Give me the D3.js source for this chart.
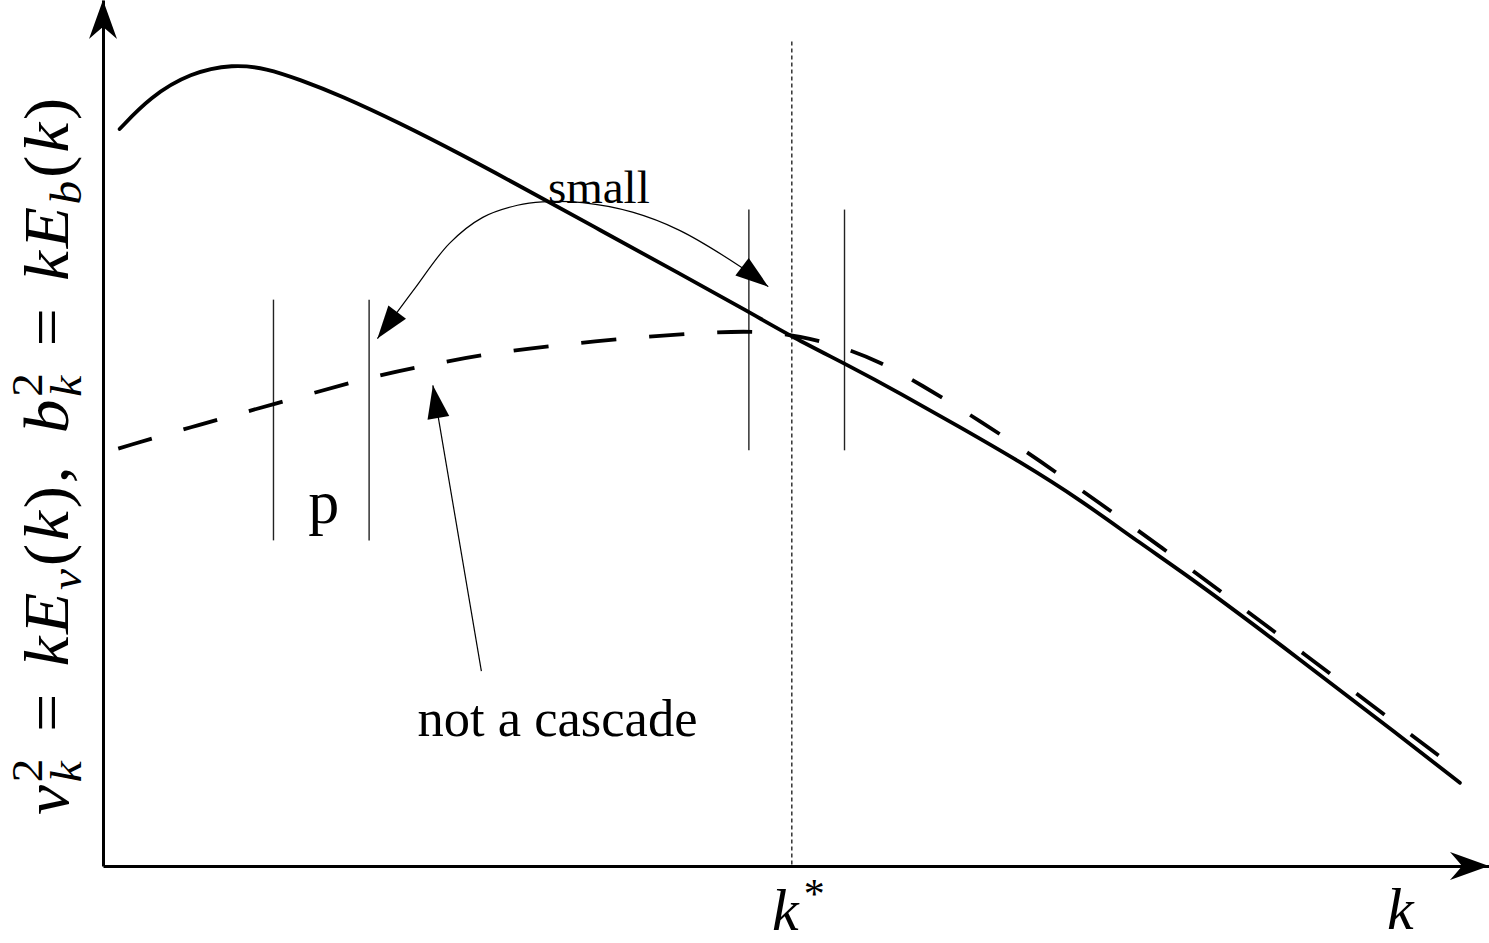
<!DOCTYPE html>
<html>
<head>
<meta charset="utf-8">
<script src="https://cdn.jsdelivr.net/npm/d3@7"></script>
<style>
  body { margin: 0; background: #fff; }
  svg { display: block; }
</style>
</head>
<body>
<svg id="chart" width="1489" height="943"></svg>
<script>
// Schematic kinetic / magnetic spectra, arbitrary units (k: 0–100, amplitude: 0–100)
const kineticK = [1.2, 3.4, 6.3, 9.4, 11.8, 14.2, 17.1, 21.4, 25.8, 30.1, 35.9, 41.6, 46.7, 49.7, 53.9, 57.5, 61.8, 66.2, 70.5, 74.8, 79.1, 86.4, 93.6, 97.9];
const kineticE = [85.1, 88.8, 91.6, 92.6, 92.1, 90.8, 89.0, 85.8, 82.2, 78.5, 73.4, 68.4, 63.9, 61.1, 57.7, 54.6, 50.7, 46.65, 42.3, 37.3, 32.6, 23.8, 15.0, 9.6];

const magneticK = [1.1, 7.0, 12.3, 19.3, 23.6, 28.6, 35.9, 43.1, 47.4, 50.3, 53.2, 56.1, 58.9, 63.3, 67.6, 71.9, 76.3, 81.3, 86.4, 93.6, 97.9];
const magneticE = [48.2, 51.0, 53.3, 56.5, 57.9, 59.4, 60.7, 61.6, 61.8, 61.2, 60.0, 58.2, 55.7, 51.4, 46.8, 41.9, 36.9, 30.9, 24.8, 16.1, 10.9];

// Equipartition wavenumber
const kStar = 49.7;
const kStarTop = 95.2;

// Wavenumber shells (pairs of bounding lines) and their vertical extents
const shellLow = [12.3, 19.2];
const shellLowSpan = [37.6, 65.4];
const shellHigh = [46.6, 53.5];
const shellHighSpan = [48.0, 75.8];

// Transfer arc between the two shells ("small")
const transferK = [19.8, 21.2, 22.5, 25.0, 27.4, 29.9, 31.7, 34.6, 38.2, 41.6, 46.0, 48.0];
const transferE = [60.9, 63.9, 66.7, 71.9, 74.9, 76.3, 76.7, 76.6, 75.5, 73.4, 69.2, 66.9];

// Pointer from the "not a cascade" note to the magnetic spectrum
const noteK = [27.3, 23.8];
const noteE = [22.5, 55.5];

const xTickValues = [kStar];
const xTickLabel = ["k", "*"];
const xTitle = "k";
const noteLabels = ["small", "not a cascade", "p"];

const svg = d3.select("#chart");

const x = d3.scaleLinear().domain([0, 100]).range([103, 1489]);
const y = d3.scaleLinear().domain([0, 100]).range([866, 0]);

const serif = "'Liberation Serif', 'Times New Roman', serif";

// Arrowhead for the annotation arrows
const defs = svg.append("defs");
defs.append("marker")
  .attr("id", "head")
  .attr("viewBox", "-34 -12 36 24")
  .attr("markerUnits", "userSpaceOnUse")
  .attr("markerWidth", 36)
  .attr("markerHeight", 24)
  .attr("refX", 0)
  .attr("refY", 0)
  .attr("orient", "auto-start-reverse")
  .append("path")
  .attr("d", "M0,0 L-33,-11 L-33,11 Z")
  .attr("fill", "#000");

// Axes
const xAxis = d3.axisBottom(x).tickValues(xTickValues).tickSize(0).tickSizeOuter(0).tickFormat(() => "");
const gx = svg.append("g").attr("transform", `translate(0,${y(0)})`).call(xAxis);
gx.select(".domain").attr("stroke", "#000").attr("stroke-width", 3);
gx.selectAll(".tick text").remove();
const kt = gx.selectAll(".tick").append("text")
  .attr("y", 64)
  .attr("x", 6)
  .attr("text-anchor", "middle")
  .attr("font-family", serif)
  .attr("fill", "#000");
kt.append("tspan").text(xTickLabel[0]).attr("font-style", "italic").attr("font-size", 60);
kt.append("tspan").text(xTickLabel[1]).attr("font-size", 42).attr("dy", -22).attr("dx", 5);

const yAxis = d3.axisLeft(y).tickValues([]).tickSizeOuter(0);
const gy = svg.append("g").attr("transform", `translate(${x(0)},0)`).call(yAxis);
gy.select(".domain").attr("stroke", "#000").attr("stroke-width", 3);

// Stealth-style axis arrowheads
const axisHead = "M0,0 L-39,-14 Q-31,-5 -27,0 Q-31,5 -39,14 Z";
svg.append("path").attr("d", axisHead).attr("fill", "#000")
  .attr("transform", `translate(${x(100)},${y(0)})`);
svg.append("path").attr("d", axisHead).attr("fill", "#000")
  .attr("transform", `translate(${x(0)},${y(100)}) rotate(-90)`);

// Axis title
svg.append("text")
  .attr("x", x(93.6)).attr("y", 929)
  .attr("text-anchor", "middle")
  .attr("font-family", serif).attr("font-style", "italic").attr("font-size", 60)
  .text(xTitle);

// Vertical label built from math pieces: [text, kind]
const yLabelPieces = [
  ["v", "i"], ["2", "sup"], ["k", "sub"], ["=", "op"],
  ["k", "i"], ["E", "i"], ["v", "sub"], ["(", "r"], ["k", "i"], [")", "r"], [",", "punct"],
  ["b", "i"], ["2", "sup"], ["k", "sub"], ["=", "op"],
  ["k", "i"], ["E", "i"], ["b", "sub"], ["(", "r"], ["k", "i"], [")", "r"]
];

function mathLabel(g, pieces, size) {
  let cx = 0, stackW = 0;
  const small = size * 0.7;
  pieces.forEach(([t, kind]) => {
    if (kind === "op") cx += size * 0.36;
    const script = kind === "sup" || kind === "sub";
    const el = g.append("text").text(t)
      .attr("font-family", serif)
      .attr("font-size", script ? small : size)
      .attr("font-style", (kind === "i" || kind === "sub") ? "italic" : "normal")
      .attr("x", cx)
      .attr("y", kind === "sup" ? -size * 0.4 : kind === "sub" ? size * 0.2 : 0);
    const w = el.node().getComputedTextLength();
    if (kind === "sup") { stackW = w; }
    else if (kind === "sub" && stackW) { cx += Math.max(w, stackW) + size * 0.04; stackW = 0; }
    else cx += w + size * 0.04;
    if (kind === "op") cx += size * 0.36;
    if (kind === "punct") cx += size * 0.45;
  });
  return cx;
}

const yl = svg.append("g").attr("transform", "translate(68,455) rotate(-90)");
const ylInner = yl.append("g");
const ylLen = mathLabel(ylInner, yLabelPieces, 64);
const stretch = 720 / ylLen;
ylInner.attr("transform", `scale(${stretch},1) translate(${-ylLen / 2},0)`);

// k* guide
svg.append("line")
  .attr("x1", x(kStar)).attr("x2", x(kStar))
  .attr("y1", y(kStarTop)).attr("y2", y(0))
  .attr("stroke", "#000").attr("stroke-width", 1.2)
  .attr("stroke-dasharray", "4,3");

// Shell boundaries
const shells = [
  ...shellLow.map(k => ({ k, span: shellLowSpan })),
  ...shellHigh.map(k => ({ k, span: shellHighSpan }))
];
svg.selectAll("line.shell").data(shells).join("line")
  .attr("class", "shell")
  .attr("x1", d => x(d.k)).attr("x2", d => x(d.k))
  .attr("y1", d => y(d.span[0])).attr("y2", d => y(d.span[1]))
  .attr("stroke", "#222").attr("stroke-width", 1.4);

// Spectra
const spectrum = d3.line().x(d => x(d[0])).y(d => y(d[1])).curve(d3.curveBasis);
const arc = d3.line().x(d => x(d[0])).y(d => y(d[1])).curve(d3.curveCatmullRom.alpha(0.5));

svg.append("path")
  .datum(d3.zip(magneticK, magneticE))
  .attr("d", spectrum)
  .attr("fill", "none").attr("stroke", "#000").attr("stroke-width", 3.8)
  .attr("stroke-dasharray", "35,33");

svg.append("path")
  .datum(d3.zip(kineticK, kineticE))
  .attr("d", spectrum)
  .attr("fill", "none").attr("stroke", "#000").attr("stroke-width", 3.8)
  .attr("stroke-linecap", "round");

// Transfer arc with heads at both ends
svg.append("path")
  .datum(d3.zip(transferK, transferE))
  .attr("d", arc)
  .attr("fill", "none").attr("stroke", "#000").attr("stroke-width", 1.2)
  .attr("marker-start", "url(#head)")
  .attr("marker-end", "url(#head)");

// Note pointer
svg.append("path")
  .datum(d3.zip(noteK, noteE))
  .attr("d", d3.line().x(d => x(d[0])).y(d => y(d[1])))
  .attr("fill", "none").attr("stroke", "#000").attr("stroke-width", 1.2)
  .attr("marker-end", "url(#head)");

// Annotations
svg.append("text").attr("x", x(32.1)).attr("y", y(76.6))
  .attr("font-family", serif).attr("font-size", 47).text(noteLabels[0]);
svg.append("text").attr("x", x(22.7)).attr("y", y(15.0))
  .attr("font-family", serif).attr("font-size", 52.5).text(noteLabels[1]);
svg.append("text").attr("x", x(14.8)).attr("y", y(39.6))
  .attr("font-family", serif).attr("font-size", 62).text(noteLabels[2]);
</script>
</body>
</html>
